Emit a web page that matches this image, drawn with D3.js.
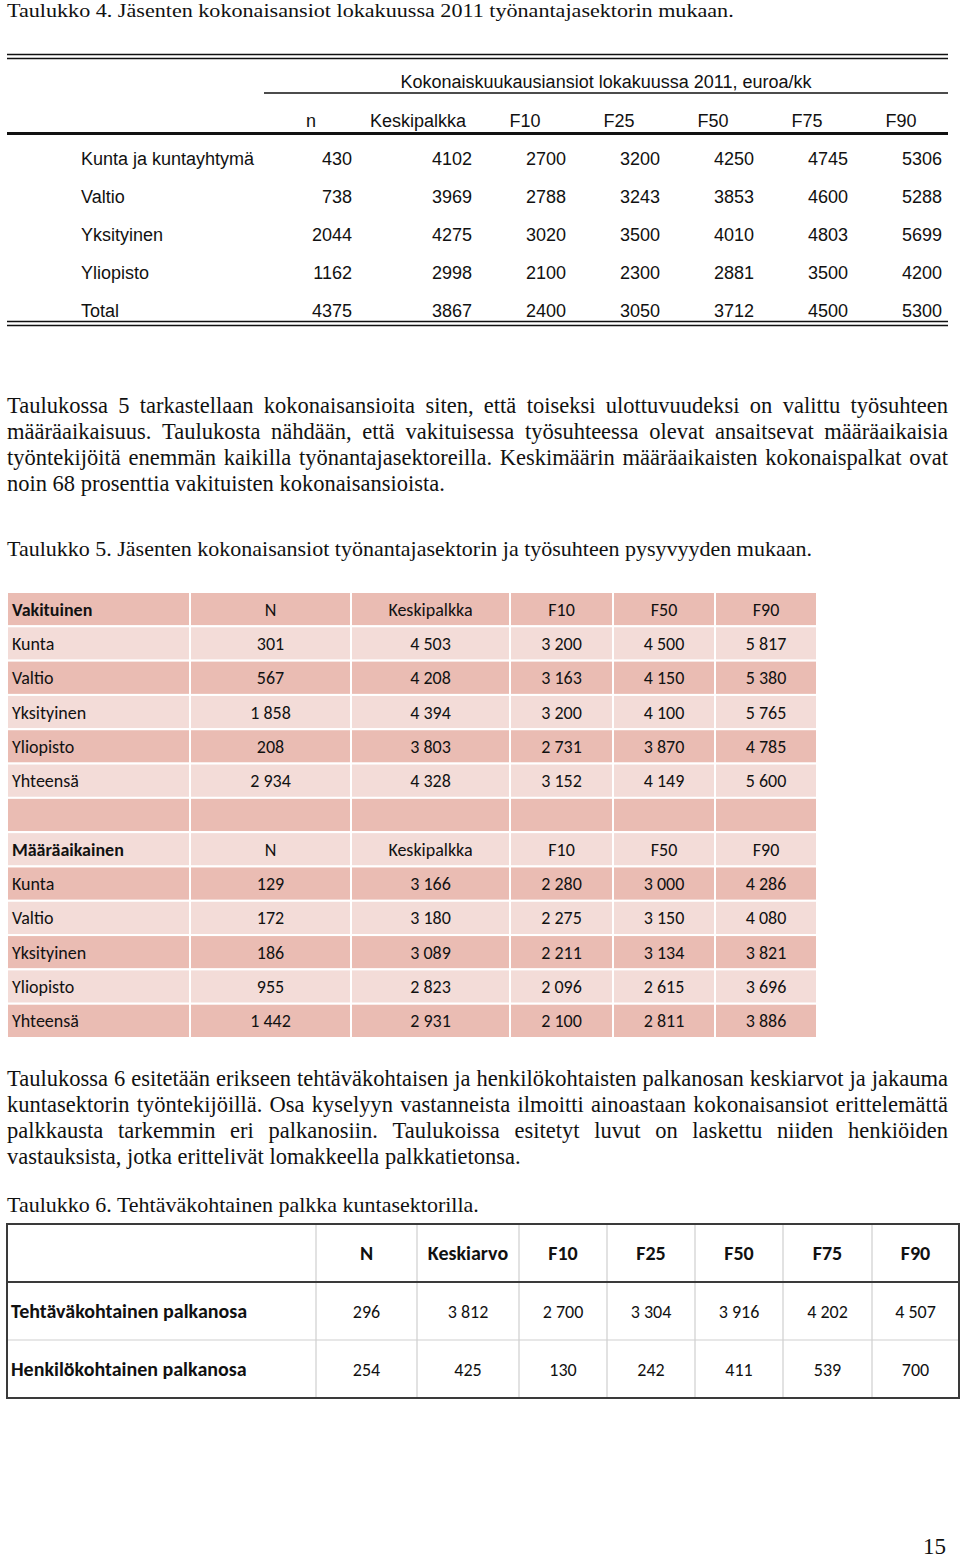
<!DOCTYPE html>
<html>
<head>
<meta charset="utf-8">
<script src="https://cdn.jsdelivr.net/npm/d3@7"></script>
<style>
  body { margin: 0; background: #fff; }
  .serif { font-family: "Liberation Serif", "Times New Roman", serif; font-size: 22px; fill: #111; }
  .body { font-size: 22.5px; }
  .arial { font-family: "Liberation Sans", Arial, sans-serif; font-size: 18px; fill: #111; }
  .cal { font-family: Carlito, Calibri, Lato, sans-serif; font-size: 18px; fill: #111; }
  .cal6 { font-family: Carlito, Calibri, Lato, sans-serif; font-size: 18px; fill: #111; }
  .cal6.b { font-size: 20px; font-weight: bold; }
</style>
</head>
<body>
<div id="page"></div>
<script>
// ---- table 4 data
var t4Cols = ["n", "Keskipalkka", "F10", "F25", "F50", "F75", "F90"];
var t4Rows = ["Kunta ja kuntayhtymä", "Valtio", "Yksityinen", "Yliopisto", "Total"];
var t4Values = [
  [430, 4102, 2700, 3200, 4250, 4745, 5306],
  [738, 3969, 2788, 3243, 3853, 4600, 5288],
  [2044, 4275, 3020, 3500, 4010, 4803, 5699],
  [1162, 2998, 2100, 2300, 2881, 3500, 4200],
  [4375, 3867, 2400, 3050, 3712, 4500, 5300]
];

// ---- table 5 data
var t5Cols = ["N", "Keskipalkka", "F10", "F50", "F90"];
var t5Rows = ["Kunta", "Valtio", "Yksityinen", "Yliopisto", "Yhteensä"];
var t5Vakituinen = [
  [301, 4503, 3200, 4500, 5817],
  [567, 4208, 3163, 4150, 5380],
  [1858, 4394, 3200, 4100, 5765],
  [208, 3803, 2731, 3870, 4785],
  [2934, 4328, 3152, 4149, 5600]
];
var t5Maaraaikainen = [
  [129, 3166, 2280, 3000, 4286],
  [172, 3180, 2275, 3150, 4080],
  [186, 3089, 2211, 3134, 3821],
  [955, 2823, 2096, 2615, 3696],
  [1442, 2931, 2100, 2811, 3886]
];

// ---- table 6 data
var t6Cols = ["N", "Keskiarvo", "F10", "F25", "F50", "F75", "F90"];
var t6Rows = ["Tehtäväkohtainen palkanosa", "Henkilökohtainen palkanosa"];
var t6Values = [
  [296, 3812, 2700, 3304, 3916, 4202, 4507],
  [254, 425, 130, 242, 411, 539, 700]
];

var para1 = [
  "Taulukossa 5 tarkastellaan kokonaisansioita siten, että toiseksi ulottuvuudeksi on valittu työsuhteen",
  "määräaikaisuus. Taulukosta nähdään, että vakituisessa työsuhteessa olevat ansaitsevat määräaikaisia",
  "työntekijöitä enemmän kaikilla työnantajasektoreilla. Keskimäärin määräaikaisten kokonaispalkat ovat",
  "noin 68 prosenttia vakituisten kokonaisansioista."
];
var para2 = [
  "Taulukossa 6 esitetään erikseen tehtäväkohtaisen ja henkilökohtaisten palkanosan keskiarvot ja jakauma",
  "kuntasektorin työntekijöillä. Osa kyselyyn vastanneista ilmoitti ainoastaan kokonaisansiot erittelemättä",
  "palkkausta tarkemmin eri palkanosiin. Taulukoissa esitetyt luvut on laskettu niiden henkiöiden",
  "vastauksista, jotka erittelivät lomakkeella palkkatietonsa."
];

var fmtSpace = d3.formatLocale({decimal: ",", thousands: " ", grouping: [3], currency: ["", ""]}).format(",d");

var svg = d3.select("#page").append("svg")
  .attr("width", 960)
  .attr("height", 1559);

svg.append("rect").attr("width", 960).attr("height", 1559).attr("fill", "#fff");

// justified paragraph: each word placed by hand so lines fill the width
function paragraph(lines, y0, lineH) {
  var g = svg.append("g").attr("class", "serif body");
  lines.forEach(function(str, li) {
    var y = y0 + li * lineH;
    var words = str.split(" ");
    var nodes = words.map(function(w) { return g.append("text").attr("y", y).text(w); });
    var widths = nodes.map(function(n) { return n.node().getComputedTextLength(); });
    var total = d3.sum(widths);
    var last = li == lines.length - 1;
    var gap = last ? 5.6 : Math.max(2, (948 - 7 - total) / (words.length - 1));
    var x = 7;
    nodes.forEach(function(n, i) {
      n.attr("x", x);
      x += widths[i] + gap;
    });
  });
}

// ---------------- Table 4
// the scan is a little stretched sideways, so the top caption is too
svg.append("text").attr("class", "serif")
  .attr("transform", "translate(7,16.5) scale(1.165,1)")
  .style("font-size", "19px")
  .text("Taulukko 4. Jäsenten kokonaisansiot lokakuussa 2011 työnantajasektorin mukaan.");

var t4Widths = [94, 120, 94, 94, 94, 94, 94];
var t4Left = d3.scaleOrdinal().domain(t4Cols)
  .range(t4Widths.map(function(w, i) { return 264 + d3.sum(t4Widths.slice(0, i)); }));
var t4W = d3.scaleOrdinal().domain(t4Cols).range(t4Widths);
var t4Y = d3.scalePoint().domain(t4Rows).range([158, 310]);

var t4 = svg.append("g");
function hline(g, x1, x2, y, w, c) {
  g.append("line").attr("x1", x1).attr("x2", x2).attr("y1", y).attr("y2", y)
    .attr("stroke", c || "#111").attr("stroke-width", w);
}
hline(t4, 7, 948, 54.5, 1.4);
hline(t4, 7, 948, 58.5, 1.4);
hline(t4, 264, 948, 93, 1.4);
hline(t4, 7, 948, 133.5, 3.2);
hline(t4, 7, 948, 321.5, 1.4);
hline(t4, 7, 948, 325.5, 1.4);

t4.append("text").attr("class", "arial").attr("x", 606).attr("y", 88)
  .attr("text-anchor", "middle")
  .text("Kokonaiskuukausiansiot lokakuussa 2011, euroa/kk");

t4.selectAll("text.h4").data(t4Cols).enter().append("text")
  .attr("class", "arial h4")
  .attr("text-anchor", "middle")
  .attr("x", function(d) { return t4Left(d) + t4W(d) / 2; })
  .attr("y", 127)
  .text(function(d) { return d; });

var t4r = t4.selectAll("g.r4").data(t4Rows).enter().append("g")
  .attr("class", "r4")
  .attr("transform", function(d) { return "translate(0," + (t4Y(d) + 6.5) + ")"; });
t4r.append("text").attr("class", "arial").attr("x", 81).text(function(d) { return d; });
t4r.selectAll("text.v").data(function(d, i) { return t4Values[i]; }).enter().append("text")
  .attr("class", "arial v")
  .attr("text-anchor", "end")
  .attr("x", function(d, i) { return t4Left(t4Cols[i]) + t4W(t4Cols[i]) - 6; })
  .text(function(d) { return d; });

// ---------------- paragraph 1
paragraph(para1, 413, 26);
svg.append("text").attr("class", "serif").attr("x", 7).attr("y", 556)
  .text("Taulukko 5. Jäsenten kokonaisansiot työnantajasektorin ja työsuhteen pysyvyyden mukaan.");

// ---------------- Table 5
var t5Edges = [7, 190, 351, 510, 613, 715, 817];
var t5Keys = ["label"].concat(t5Cols);
var t5X = d3.scaleOrdinal().domain(t5Keys).range(t5Edges.slice(0, 6));
var t5Wd = d3.scaleOrdinal().domain(t5Keys).range(t5Edges.slice(1).map(function(e, i) { return e - t5Edges[i]; }));

var t5Data = [{label: "Vakituinen", bold: true, vals: t5Cols}]
  .concat(t5Rows.map(function(r, i) { return {label: r, vals: t5Vakituinen[i].map(fmtSpace)}; }))
  .concat([{label: "", vals: ["", "", "", "", ""]}])
  .concat([{label: "Määräaikainen", bold: true, vals: t5Cols}])
  .concat(t5Rows.map(function(r, i) { return {label: r, vals: t5Maaraaikainen[i].map(fmtSpace)}; }));

var t5Y = d3.scaleBand().domain(d3.range(t5Data.length)).range([592, 1038]);
var t5Fill = ["#eabcb3", "#f3dcd8"];

var t5 = svg.append("g");
var t5r = t5.selectAll("g.r5").data(t5Data).enter().append("g")
  .attr("class", "r5")
  .attr("transform", function(d, i) { return "translate(0," + t5Y(i) + ")"; });
t5r.selectAll("rect").data(function(d, i) { return t5Keys.map(function(k) { return {k: k, row: i}; }); })
  .enter().append("rect")
  .attr("x", function(d) { return t5X(d.k); })
  .attr("width", function(d) { return t5Wd(d.k); })
  .attr("height", t5Y.bandwidth())
  .attr("fill", function(d) { return t5Fill[d.row % 2]; })
  .attr("stroke", "#fff")
  .attr("stroke-width", 2);
t5r.append("text").attr("class", "cal")
  .attr("x", 12)
  .attr("y", t5Y.bandwidth() / 2 + 6.5)
  .style("font-weight", function(d) { return d.bold ? "bold" : null; })
  .text(function(d) { return d.label; });
t5r.selectAll("text.v").data(function(d) { return d.vals; }).enter().append("text")
  .attr("class", "cal v")
  .attr("text-anchor", "middle")
  .attr("x", function(d, i) { return t5X(t5Cols[i]) + t5Wd(t5Cols[i]) / 2; })
  .attr("y", t5Y.bandwidth() / 2 + 6.5)
  .text(function(d) { return d; });

// ---------------- paragraph 2
paragraph(para2, 1086, 26);
svg.append("text").attr("class", "serif").attr("x", 7).attr("y", 1212)
  .text("Taulukko 6. Tehtäväkohtainen palkka kuntasektorilla.");

// ---------------- Table 6
var t6Edges = [7, 316, 417, 519, 607, 695, 783, 872, 959];
var t6Keys = ["label"].concat(t6Cols);
var t6X = d3.scaleOrdinal().domain(t6Keys).range(t6Edges.slice(0, 8));
var t6Wd = d3.scaleOrdinal().domain(t6Keys).range(t6Edges.slice(1).map(function(e, i) { return e - t6Edges[i]; }));
var t6Y = d3.scaleBand().domain(["head"].concat(t6Rows)).range([1224, 1398]);

var t6 = svg.append("g");
// light inner grid
t6.selectAll("line.vg").data(t6Cols).enter().append("line")
  .attr("class", "vg")
  .attr("x1", function(d) { return t6X(d); }).attr("x2", function(d) { return t6X(d); })
  .attr("y1", 1224).attr("y2", 1398)
  .attr("stroke", "#cfcfcf").attr("stroke-width", 1.2);
hline(t6, 7, 959, t6Y(t6Rows[1]), 1.2, "#cfcfcf");
hline(t6, 7, 959, t6Y(t6Rows[0]), 2, "#3a3a3a");
t6.append("rect").attr("x", 7).attr("y", 1224).attr("width", 952).attr("height", 174)
  .attr("fill", "none").attr("stroke", "#3a3a3a").attr("stroke-width", 2);

var midY = function(k) { return t6Y(k) + t6Y.bandwidth() / 2 + 7; };
t6.selectAll("text.h6").data(t6Cols).enter().append("text")
  .attr("class", "cal6 b h6")
  .attr("text-anchor", "middle")
  .attr("x", function(d) { return t6X(d) + t6Wd(d) / 2; })
  .attr("y", midY("head"))
  .text(function(d) { return d; });

var t6r = t6.selectAll("g.r6").data(t6Rows).enter().append("g")
  .attr("class", "r6")
  .attr("transform", function(d) { return "translate(0," + midY(d) + ")"; });
t6r.append("text").attr("class", "cal6 b").attr("x", 11)
  .text(function(d) { return d; });
t6r.selectAll("text.v").data(function(d, i) { return t6Values[i]; }).enter().append("text")
  .attr("class", "cal6 v")
  .attr("text-anchor", "middle")
  .attr("x", function(d, i) { return t6X(t6Cols[i]) + t6Wd(t6Cols[i]) / 2; })
  .text(function(d) { return fmtSpace(d); });

// page number
svg.append("text").attr("class", "serif").attr("x", 946).attr("y", 1554)
  .attr("text-anchor", "end").style("font-size", "23px").text("15");
</script>
</body>
</html>
